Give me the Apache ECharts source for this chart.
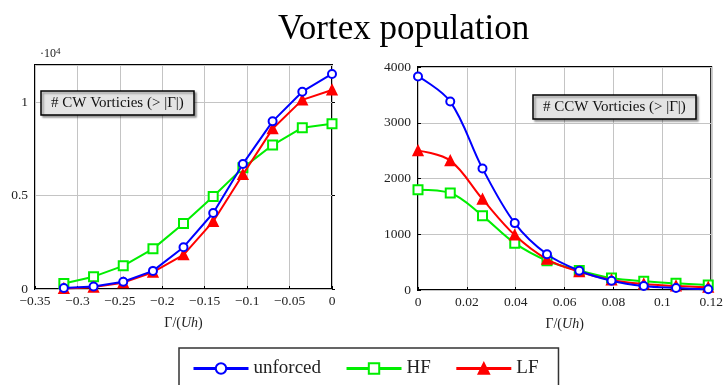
<!DOCTYPE html>
<html><head><meta charset="utf-8">
<script src="https://cdn.jsdelivr.net/npm/echarts@6/dist/echarts.min.js"></script>
<style>html,body{margin:0;padding:0;background:#fff}#c{width:726px;height:385px}</style>
</head><body><div id="c"></div>
<script>
// CW (left) panel, counts in units of 1e4
const cwX = [-0.316, -0.281, -0.246, -0.211, -0.175, -0.140, -0.105, -0.070, -0.035, 0];
const cwUnforced = [0.005, 0.013, 0.039, 0.097, 0.224, 0.407, 0.670, 0.898, 1.057, 1.152];
const cwHF = [0.030, 0.066, 0.124, 0.215, 0.351, 0.496, 0.649, 0.771, 0.864, 0.885];
const cwLF = [0.003, 0.010, 0.034, 0.090, 0.183, 0.362, 0.613, 0.858, 1.013, 1.066];
// CCW (right) panel
const ccwX = [0, 0.0132, 0.0264, 0.0396, 0.0528, 0.0660, 0.0792, 0.0924, 0.1056, 0.1188];
const ccwUnforced = [3830, 3380, 2180, 1200, 640, 346, 167, 72, 36, 12];
const ccwHF = [1800, 1740, 1330, 840, 525, 350, 215, 156, 120, 90];
const ccwLF = [2500, 2320, 1630, 985, 550, 328, 179, 107, 72, 48];
const seriesNames = ['unforced', 'HF', 'LF'];

const SERIF = '"Liberation Serif","DejaVu Serif",serif';
const colors = {unforced:'#0000ff', HF:'#00ee00', LF:'#ff0000'};
const symbols = {unforced:'emptyCircle', HF:'emptyRect', LF:'triangle'};
const symSize = {unforced:8, HF:9, LF:9};

function pairs(xs, ys){ return xs.map((x,i)=>[x, ys[i]]); }
function fmt(v){ if (Math.abs(v) < 1e-12) return '0'; return String(+(+v).toFixed(3)).replace('-', '\u2212'); }

const nameRich = {
  n:{fontFamily:SERIF, fontSize:14, color:'#222'},
  i:{fontFamily:SERIF, fontSize:14, fontStyle:'italic', color:'#222'}
};
function xAxisCfg(grid, min, max, interval){
  return {
    type:'value', gridIndex:grid, min:min, max:max, interval:interval,
    name:'{n|Γ/(}{i|Uh}{n|)}', nameLocation:'middle', nameGap:27,
    nameTextStyle:{rich:nameRich},
    axisLine:{show:false}, axisTick:{show:true, inside:true, length:3, lineStyle:{color:'#000'}},
    axisLabel:{fontFamily:SERIF, fontSize:13.5, color:'#222', margin:5, formatter:fmt},
    splitLine:{show:true, lineStyle:{color:'#c4c4c4', width:1}}
  };
}
function yAxisCfg(grid, min, max, interval){
  return {
    type:'value', gridIndex:grid, min:min, max:max, interval:interval,
    axisLine:{show:false}, axisTick:{show:true, inside:true, length:3, lineStyle:{color:'#000'}},
    axisLabel:{fontFamily:SERIF, fontSize:13.5, color:'#222', margin:7, formatter:fmt, showMaxLabel: max === 4000},
    splitLine:{show:true, lineStyle:{color:'#c4c4c4', width:1}}
  };
}
function mk(name, grid, xs, ys, smooth){
  return {
    type:'line', name:name, xAxisIndex:grid, yAxisIndex:grid,
    data:pairs(xs, ys), smooth:smooth,
    symbol:symbols[name], symbolSize:symSize[name],
    lineStyle:{color:colors[name], width:2},
    itemStyle:{color:colors[name], borderColor:colors[name], borderWidth:2},
    z: name==='LF'?3:(name==='unforced'?4:2)
  };
}
const boxStyle = {
  backgroundColor:'#e4e4e4', borderColor:'#000', borderWidth:1.5, padding:[4,10,3,10],
  shadowColor:'rgba(0,0,0,0.35)', shadowOffsetX:2, shadowOffsetY:2, shadowBlur:2
};
const boxText = {fontFamily:SERIF, fontSize:15, lineHeight:17, fontWeight:'normal', color:'#111'};

const chart = echarts.init(document.getElementById('c'), null, {renderer:'canvas'});
chart.setOption({
  animation:false,
  backgroundColor:'#fff',
  title:[
    {text:'Vortex population', left:273, top:7,
     textStyle:{fontFamily:SERIF, fontSize:35, fontWeight:'normal', color:'#000'}},
    Object.assign({text:'# CW Vorticies (> |Γ|)', left:41, top:91, textStyle:boxText}, boxStyle),
    Object.assign({text:'# CCW Vorticies (> |Γ|)', left:533, top:95, textStyle:boxText}, boxStyle)
  ],
  graphic:[
    {type:'text', left:40, top:47, style:{
      text:'·10{s|4}', font:'12px ' + SERIF, fill:'#222',
      rich:{s:{fontSize:9, verticalAlign:'top', fontFamily:SERIF, fill:'#222', padding:[0,0,5,0]}}
    }}
  ],
  legend:{
    data:seriesNames, left:179, top:348,
    padding:[11,20,20,13], itemGap:24, itemWidth:55, itemHeight:13,
    borderColor:'#333', borderWidth:1.5, backgroundColor:'#fff',
    lineStyle:{width:3},
    textStyle:{fontFamily:SERIF, fontSize:19, color:'#222'}
  },
  grid:[
    {left:35, top:65, width:297, height:224, show:true, borderColor:'#000', borderWidth:2, backgroundColor:'transparent'},
    {left:418, top:67, width:295, height:223, show:true, borderColor:'#000', borderWidth:2, backgroundColor:'transparent'}
  ],
  xAxis:[ xAxisCfg(0, -0.35, 0, 0.05), xAxisCfg(1, 0, 0.12, 0.02) ],
  yAxis:[ yAxisCfg(0, 0, 1.2, 0.5), yAxisCfg(1, 0, 4000, 1000) ],
  series:[
    mk('unforced', 0, cwX, cwUnforced, false),
    mk('HF', 0, cwX, cwHF, false),
    mk('LF', 0, cwX, cwLF, false),
    mk('unforced', 1, ccwX, ccwUnforced, 0.35),
    mk('HF', 1, ccwX, ccwHF, 0.35),
    mk('LF', 1, ccwX, ccwLF, 0.35)
  ]
});
</script></body></html>
